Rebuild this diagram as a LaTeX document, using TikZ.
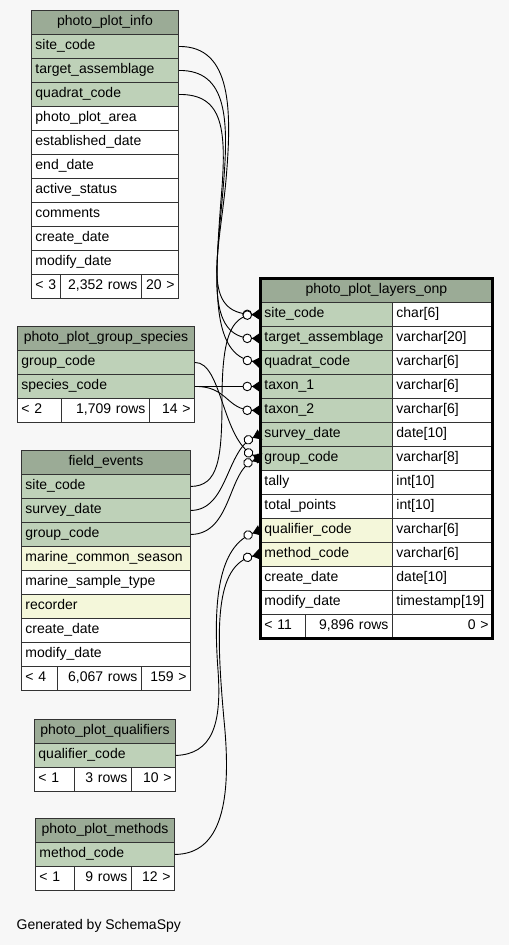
\documentclass[tikz,border=0pt]{standalone}
\usepackage{fontspec}
\setmainfont{Liberation Sans}
\usetikzlibrary{arrows.meta}
\definecolor{headgreen}{HTML}{9BAB96}
\definecolor{keygreen}{HTML}{BED1B8}
\definecolor{idxyellow}{HTML}{F4F7DA}
\definecolor{pagebg}{HTML}{F7F7F7}

\begin{document}
\begin{tikzpicture}[x=1pt, y=-1pt,
  cell/.style={draw=black!80, line width=0.9pt, fill=white, anchor=north west,
    minimum height=24pt, inner xsep=4pt, inner ysep=0pt, text height=10.5pt,
    text depth=3.5pt, font=\fontsize{14}{16}\selectfont, align=left},
  hdr/.style={cell, fill=headgreen, align=center},
  key/.style={cell, fill=keygreen},
  idx/.style={cell, fill=idxyellow},
  num/.style={cell, align=right},
  infow/.style={text width=139pt},
  grpw/.style={text width=169pt},
  few/.style={text width=161pt},
  qualw/.style={text width=133pt},
  methw/.style={text width=131pt},
  onpw/.style={text width=124pt},
  typew/.style={text width=92pt},
  fk/.style={line width=0.9pt,
    -{Circle[fill=white, length=9.5pt, width=9.5pt] Triangle[reversed, length=8pt, width=11pt]}}]
\fill[pagebg] (0,0) rectangle (509,945);
\useasboundingbox (0,0) rectangle (509,945);
% photo_plot_info
\node[hdr, infow] (info) at (31,10) {photo\_plot\_info};
\node[key, infow] (info-site) at (31,34) {site\_code};
\node[key, infow] (info-target) at (31,58) {target\_assemblage};
\node[key, infow] (info-quadrat) at (31,82) {quadrat\_code};
\node[cell, infow] (info-area) at (31,106) {photo\_plot\_area};
\node[cell, infow] (info-established) at (31,130) {established\_date};
\node[cell, infow] (info-end) at (31,154) {end\_date};
\node[cell, infow] (info-active) at (31,178) {active\_status};
\node[cell, infow] (info-comments) at (31,202) {comments};
\node[cell, infow] (info-create) at (31,226) {create\_date};
\node[cell, infow] (info-modify) at (31,250) {modify\_date};
\node[cell, text width=21pt] (info-parents) at (31,274) {< 3};
\node[num, text width=73pt] (info-rows) at (60,274) {2,352 rows};
\node[num, text width=29pt] (info-children) at (141,274) {20 >};
% photo_plot_group_species
\node[hdr, grpw] (grp) at (17,326) {photo\_plot\_group\_species};
\node[key, grpw] (grp-group) at (17,350) {group\_code};
\node[key, grpw] (grp-species) at (17,374) {species\_code};
\node[cell, text width=36pt] (grp-parents) at (17,398) {< 2};
\node[num, text width=80pt] (grp-rows) at (61,398) {1,709 rows};
\node[num, text width=37pt] (grp-children) at (149,398) {14 >};
% field_events
\node[hdr, few] (fe) at (21,450) {field\_events};
\node[key, few] (fe-site) at (21,474) {site\_code};
\node[key, few] (fe-survey) at (21,498) {survey\_date};
\node[key, few] (fe-group) at (21,522) {group\_code};
\node[idx, few] (fe-season) at (21,546) {marine\_common\_season};
\node[cell, few] (fe-type) at (21,570) {marine\_sample\_type};
\node[idx, few] (fe-recorder) at (21,594) {recorder};
\node[cell, few] (fe-create) at (21,618) {create\_date};
\node[cell, few] (fe-modify) at (21,642) {modify\_date};
\node[cell, text width=28pt] (fe-parents) at (21,666) {< 4};
\node[num, text width=76pt] (fe-rows) at (57,666) {6,067 rows};
\node[num, text width=41pt] (fe-children) at (141,666) {159 >};
% photo_plot_qualifiers
\node[hdr, qualw] (qual) at (34,719) {photo\_plot\_qualifiers};
\node[key, qualw] (qual-code) at (34,743) {qualifier\_code};
\node[cell, text width=32pt] (qual-parents) at (34,767) {< 1};
\node[num, text width=49pt] (qual-rows) at (74,767) {3 rows};
\node[num, text width=36pt] (qual-children) at (131,767) {10 >};
% photo_plot_methods
\node[hdr, methw] (meth) at (35,818) {photo\_plot\_methods};
\node[key, methw] (meth-code) at (35,842) {method\_code};
\node[cell, text width=31pt] (meth-parents) at (35,866) {< 1};
\node[num, text width=49pt] (meth-rows) at (74,866) {9 rows};
\node[num, text width=35pt] (meth-children) at (131,866) {12 >};
% photo_plot_layers_onp
\node[hdr, text width=224pt] (onp) at (260,278) {photo\_plot\_layers\_onp};
\node[key, onpw] (onp-site) at (260,302) {site\_code};
\node[cell, typew] (onp-site-t) at (392,302) {char[6]};
\node[key, onpw] (onp-target) at (260,326) {target\_assemblage};
\node[cell, typew] (onp-target-t) at (392,326) {varchar[20]};
\node[key, onpw] (onp-quadrat) at (260,350) {quadrat\_code};
\node[cell, typew] (onp-quadrat-t) at (392,350) {varchar[6]};
\node[key, onpw] (onp-taxon1) at (260,374) {taxon\_1};
\node[cell, typew] (onp-taxon1-t) at (392,374) {varchar[6]};
\node[key, onpw] (onp-taxon2) at (260,398) {taxon\_2};
\node[cell, typew] (onp-taxon2-t) at (392,398) {varchar[6]};
\node[key, onpw] (onp-survey) at (260,422) {survey\_date};
\node[cell, typew] (onp-survey-t) at (392,422) {date[10]};
\node[key, onpw] (onp-group) at (260,446) {group\_code};
\node[cell, typew] (onp-group-t) at (392,446) {varchar[8]};
\node[cell, onpw] (onp-tally) at (260,470) {tally};
\node[cell, typew] (onp-tally-t) at (392,470) {int[10]};
\node[cell, onpw] (onp-points) at (260,494) {total\_points};
\node[cell, typew] (onp-points-t) at (392,494) {int[10]};
\node[idx, onpw] (onp-qualifier) at (260,518) {qualifier\_code};
\node[cell, typew] (onp-qualifier-t) at (392,518) {varchar[6]};
\node[idx, onpw] (onp-method) at (260,542) {method\_code};
\node[cell, typew] (onp-method-t) at (392,542) {varchar[6]};
\node[cell, onpw] (onp-create) at (260,566) {create\_date};
\node[cell, typew] (onp-create-t) at (392,566) {date[10]};
\node[cell, onpw] (onp-modify) at (260,590) {modify\_date};
\node[cell, typew] (onp-modify-t) at (392,590) {timestamp[19]};
\node[cell, text width=37pt] (onp-parents) at (260,614) {< 11};
\node[num, text width=79pt] (onp-rows) at (305,614) {9,896 rows};
\node[num, text width=92pt] (onp-children) at (392,614) {0 >};
\draw[line width=3pt] (onp.north west) rectangle (onp-children.south east);
% foreign keys
\draw[fk] (info-site.east) .. controls (232,46) and (232,110) .. (226,180) .. controls (219,255) and (200,314) .. (onp-site.west);
\draw[fk] (info-target.east) .. controls (228,70) and (229,120) .. (223,190) .. controls (216,270) and (205,338) .. (onp-target.west);
\draw[fk] (info-quadrat.east) .. controls (224,94) and (227,130) .. (221,200) .. controls (214,290) and (212,355) .. (onp-quadrat.west);
\draw[fk] (grp-species.east) -- (onp-taxon1.west);
\draw[fk] (grp-species.east) .. controls (228,386) and (226,410) .. (onp-taxon2.west);
\draw[fk] (grp-group.east) .. controls (222,362) and (222,440) .. (onp-group.west);
\draw[fk] (fe-site.east) .. controls (218,486) and (222,460) .. (222,400) .. controls (222,340) and (230,316) .. (onp-site.west);
\draw[fk] (fe-survey.east) .. controls (228,510) and (226,450) .. (onp-survey.west);
\draw[fk] (fe-group.east) .. controls (232,534) and (228,470) .. (onp-group.west);
\draw[fk] (qual-code.east) .. controls (212,754) and (222,725) .. (218,670) .. controls (212,590) and (222,545) .. (onp-qualifier.west);
\draw[fk] (meth-code.east) .. controls (222,854) and (232,800) .. (224,720) .. controls (216,630) and (214,565) .. (onp-method.west);
\node[anchor=west, inner sep=0pt, font=\fontsize{14}{16}\selectfont] (credit) at (16.5,926) {Generated by SchemaSpy};
\end{tikzpicture}
\end{document}
